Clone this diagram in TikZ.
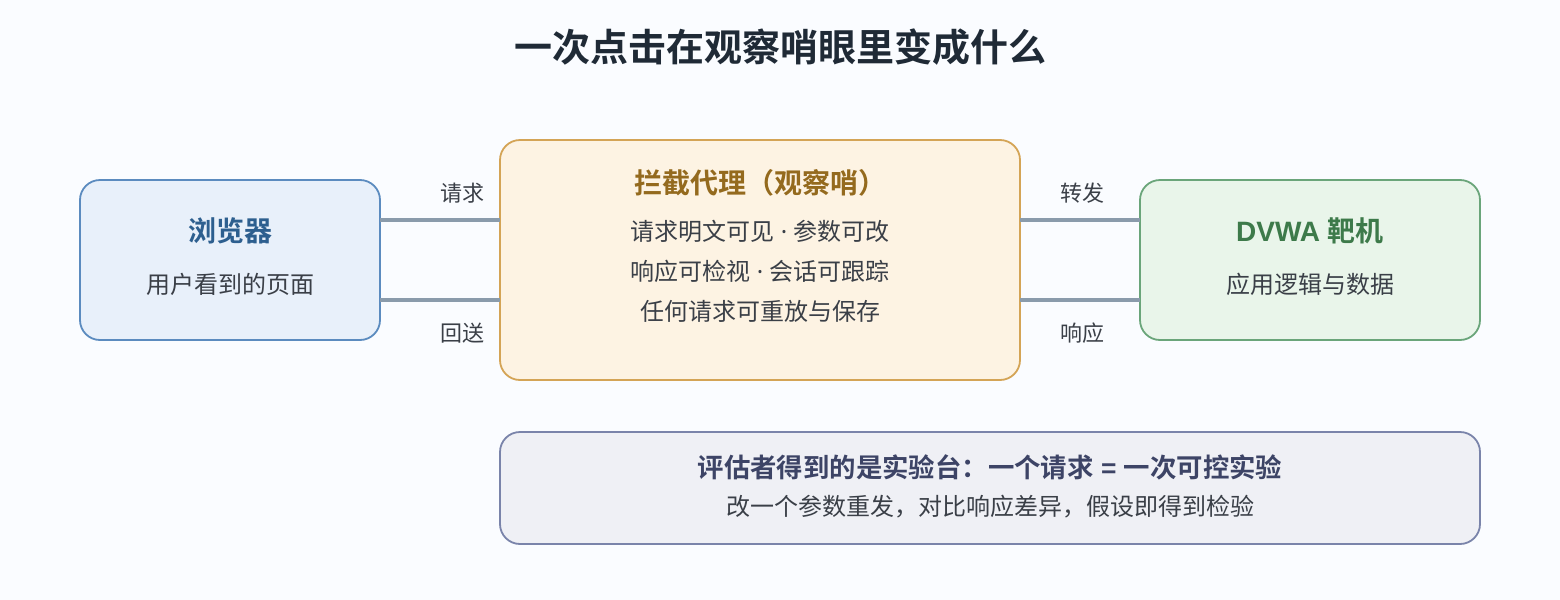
\documentclass[tikz,border=0pt]{standalone}
\usepackage{fontspec}
\setmainfont{Noto Sans CJK SC}
\newfontfamily\cjkbold{Noto Sans CJK SC Bold}
\newfontfamily\latin{Noto Sans}
\newfontfamily\latinb{Liberation Sans}
\usetikzlibrary{positioning}
\definecolor{bgpage}{HTML}{FAFCFF}
\definecolor{titlecol}{HTML}{1F2A36}
\definecolor{bodycol}{HTML}{3A3F47}
\definecolor{linkcol}{HTML}{8A9BAB}
\definecolor{brfill}{HTML}{E8F0FA}
\definecolor{brline}{HTML}{5B8BBF}
\definecolor{brtext}{HTML}{2D5F8F}
\definecolor{pxfill}{HTML}{FDF3E3}
\definecolor{pxline}{HTML}{D4A456}
\definecolor{pxtext}{HTML}{946A1E}
\definecolor{tgfill}{HTML}{E9F5EA}
\definecolor{tgline}{HTML}{6AA57A}
\definecolor{tgtext}{HTML}{3D7A4A}
\definecolor{evfill}{HTML}{EFF0F5}
\definecolor{evline}{HTML}{7A84AA}
\definecolor{evtext}{HTML}{3D4466}
\newcommand{\sepdot}{{\latin\ ·\ }}
\begin{document}
\begin{tikzpicture}[
    x=0.5pt, y=-0.5pt,
    every node/.style={text=bodycol, font=\fontsize{12}{14}\selectfont},
    panel/.style={rounded corners=10pt, line width=0.9pt, inner sep=0pt},
    heading/.style={font=\cjkbold\fontsize{14}{16}\selectfont},
    link/.style={draw=linkcol, line width=2pt},
    tag/.style={font=\fontsize{11}{13}\selectfont}]

\fill[bgpage] (0,0) rectangle (1560,600);
\useasboundingbox (0,0) rectangle (1560,600);

\node[font=\cjkbold\fontsize{19}{22}\selectfont, text=titlecol] (title) at (780,47) {一次点击在观察哨眼里变成什么};

% boxes
\draw[panel, fill=brfill, draw=brline] (80,180) rectangle (380,340);
\draw[panel, fill=pxfill, draw=pxline] (500,140) rectangle (1020,380);
\draw[panel, fill=tgfill, draw=tgline] (1140,180) rectangle (1480,340);
\draw[panel, fill=evfill, draw=evline] (500,432) rectangle (1480,544);

\coordinate (browser) at (380,260);
\coordinate (proxyL) at (500,260);
\coordinate (proxyR) at (1020,260);
\coordinate (target) at (1140,260);

\node[heading, text=brtext] (browserName) at (230,231) {浏览器};
\node (browserSub) at (230,284) {用户看到的页面};

\node[heading, text=pxtext] (proxyName) at (760,183) {拦截代理（观察哨）};
\node (proxyA) at (760,231) {请求明文可见\sepdot 参数可改};
\node (proxyB) at (760,271) {响应可检视\sepdot 会话可跟踪};
\node (proxyC) at (760,311) {任何请求可重放与保存};

\node[heading, text=tgtext] (targetName) at (1310,231) {{\latinb\bfseries DVWA }靶机};
\node (targetSub) at (1310,284) {应用逻辑与数据};

\node[heading, text=evtext, font=\cjkbold\fontsize{13.2}{15}\selectfont] (evalName) at (990,467) {评估者得到的是实验台：一个请求{\latinb\bfseries\ =\ }一次可控实验};
\node (evalSub) at (990,507) {改一个参数重发，对比响应差异，假设即得到检验};

% connectors
\draw[link] ([yshift=20pt]browser) -- ([yshift=20pt]proxyL);
\draw[link] ([yshift=-20pt]browser) -- ([yshift=-20pt]proxyL);
\draw[link] ([yshift=20pt]proxyR) -- ([yshift=20pt]target);
\draw[link] ([yshift=-20pt]proxyR) -- ([yshift=-20pt]target);

\node[tag] (reqTag) at (462,193) {请求};
\node[tag] (backTag) at (462,333) {回送};
\node[tag] (fwdTag) at (1082,193) {转发};
\node[tag] (respTag) at (1082,333) {响应};

\end{tikzpicture}
\end{document}
